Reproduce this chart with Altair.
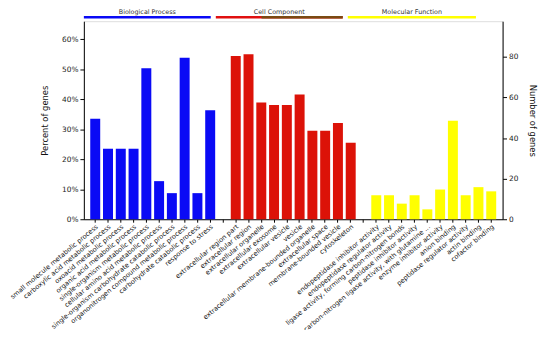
import altair as alt
import pandas as pd

# ---- data ----
bp_terms = [
    "small molecule metabolic process",
    "carboxylic acid metabolic process",
    "oxoacid metabolic process",
    "organic acid metabolic process",
    "single-organism metabolic process",
    "cellular amino acid metabolic process",
    "single-organism carbohydrate catabolic process",
    "organonitrogen compound metabolic process",
    "carbohydrate catabolic process",
    "response to stress",
]
bp_pct = [33.5, 23.5, 23.5, 23.5, 50.3, 12.7, 8.7, 53.8, 8.7, 36.3]

cc_terms = [
    "extracellular region part",
    "extracellular region",
    "extracellular organelle",
    "extracellular exosome",
    "extracellular vesicle",
    "vesicle",
    "extracellular membrane-bounded organelle",
    "extracellular space",
    "membrane-bounded vesicle",
    "cytoskeleton",
]
cc_pct = [54.4, 55.0, 38.9, 38.1, 38.1, 41.6, 29.5, 29.5, 32.1, 25.5]

mf_terms = [
    "endopeptidase inhibitor activity",
    "endopeptidase regulator activity",
    "ligase activity, forming carbon-nitrogen bonds",
    "peptidase inhibitor activity",
    "carbon-nitrogen ligase activity, with glutamine ...",
    "enzyme inhibitor activity",
    "anion binding",
    "peptidase regulator activity",
    "actin binding",
    "cofactor binding",
]
mf_pct = [8.0, 8.0, 5.2, 8.0, 3.3, 9.9, 32.8, 8.0, 10.7, 9.3]

groups = ["Biological Process", "Cell Component", "Molecular Function"]
group_colors = ["#0a0af5", "#dc1208", "#ffff00"]

# header band spans (in slot units of the plot width)
header_start = [0.0, 10.4, 20.8]
header_end = [10.0, 20.4, 30.9]
header_seg_colors = ["#0a0af5", "#e01010", "#ffff00"]
# second (brown) part of the cell component header line
cc_brown_start = [14.0]
cc_brown_end = [20.4]

gap1, gap2 = " ", "  "
domain_terms = bp_terms + [gap1] + cc_terms + [gap2] + mf_terms

rows = []
for g, terms, vals in zip(groups, [bp_terms, cc_terms, mf_terms], [bp_pct, cc_pct, mf_pct]):
    for t, v in zip(terms, vals):
        rows.append({"term": t, "pct": v / 100.0, "group": g})
df = pd.DataFrame(rows)

hdr = pd.DataFrame({
    "label": groups,
    "start": header_start,
    "end": header_end,
    "mid": [(a + b) / 2 for a, b in zip(header_start, header_end)],
    "color": header_seg_colors,
})
brown = pd.DataFrame({"start": cc_brown_start, "end": cc_brown_end})

FONT = "DejaVu Sans"

bars = alt.Chart(df).mark_bar().encode(
    x=alt.X(
        "term:N",
        scale=alt.Scale(domain=domain_terms, paddingInner=0.22, paddingOuter=0.5),
        axis=alt.Axis(
            title=None, labelAngle=-40, labelAlign="right", labelBaseline="top",
            labelFontSize=6.7, labelLimit=300, tickSize=3, labelPadding=1,
            domainColor="black", tickColor="black", labelColor="#111",
            labelFont=FONT,
        ),
    ),
    y=alt.Y(
        "pct:Q",
        scale=alt.Scale(domain=[0, 0.66], nice=False),
        axis=alt.Axis(
            title="Percent of genes", format=".0%", values=[0, 0.1, 0.2, 0.3, 0.4, 0.5, 0.6],
            grid=False, tickSize=4, labelFontSize=7.5, titleFontSize=8.5,
            titleFontWeight="normal", titlePadding=12, domainColor="black",
            tickColor="black", labelColor="#222", titleColor="#111",
            labelFont=FONT, titleFont=FONT,
        ),
    ),
    color=alt.Color("group:N", scale=alt.Scale(domain=groups, range=group_colors), legend=None),
)

right_axis = alt.Chart(pd.DataFrame({"genes": [0]})).mark_point(opacity=0).encode(
    y=alt.Y(
        "genes:Q",
        scale=alt.Scale(domain=[0, 97.6], nice=False),
        axis=alt.Axis(
            title="Number of genes", orient="right", values=[0, 20, 40, 60, 80],
            grid=False, tickSize=4, labelFontSize=7.5, titleFontSize=8.5,
            titleFontWeight="normal", titlePadding=10, domainColor="black",
            tickColor="black", labelColor="#222", titleColor="#111",
            labelFont=FONT, titleFont=FONT,
        ),
    )
)

hx = alt.Scale(domain=[0, 33], nice=False, zero=False)
hdr_lines = alt.Chart(hdr).mark_rule(strokeWidth=2.5).encode(
    x=alt.X("start:Q", scale=hx, axis=None),
    x2="end:Q",
    y=alt.value(-4),
    color=alt.Color("color:N", scale=None),
)
hdr_brown = alt.Chart(brown).mark_rule(strokeWidth=2.5, color="#7a4a12").encode(
    x=alt.X("start:Q", scale=hx, axis=None),
    x2="end:Q",
    y=alt.value(-4),
)
hdr_text = alt.Chart(hdr).mark_text(fontSize=6.5, font=FONT, color="#333").encode(
    x=alt.X("mid:Q", scale=hx, axis=None),
    y=alt.value(-9),
    text="label:N",
)

chart = alt.layer(bars, right_axis, hdr_lines, hdr_brown, hdr_text).resolve_scale(
    y="independent", x="independent", color="independent"
).properties(
    width=425, height=201,
    autosize=alt.AutoSizeParams(type="none"),
    padding={"left": 77, "top": 11, "right": 40, "bottom": 110},
).configure_view(stroke=None).configure(background="white")

chart.save("out.html", embed_options={"renderer": "svg", "actions": False})
